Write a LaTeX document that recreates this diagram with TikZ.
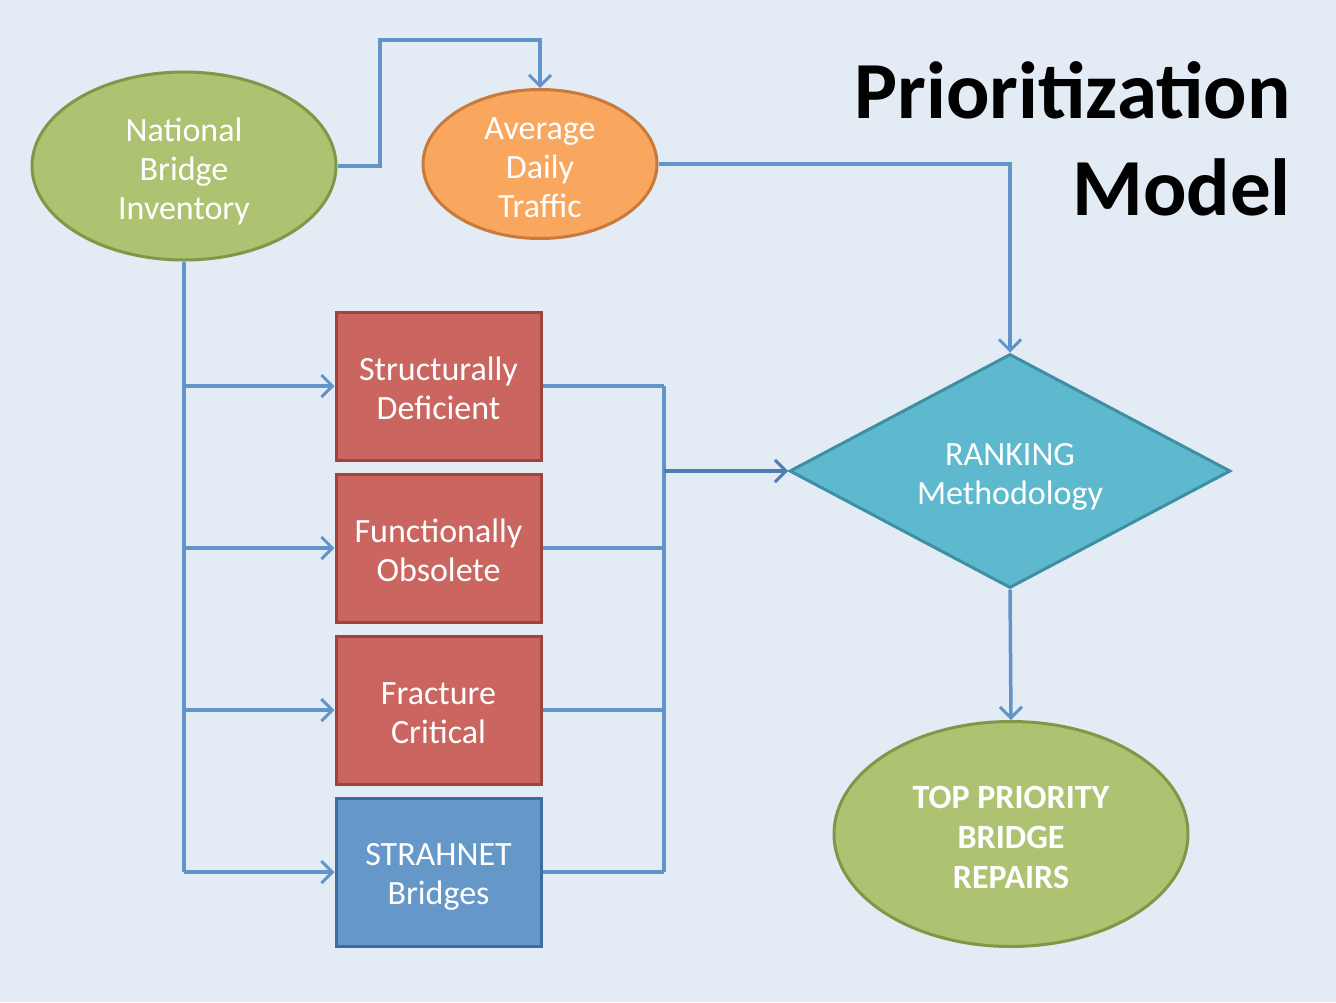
\documentclass[tikz,border=0pt]{standalone}
\usepackage{fontspec}
\setmainfont{Carlito}
\usetikzlibrary{shapes.geometric,arrows.meta}
\definecolor{bg}{RGB}{227,235,245}
\definecolor{gfill}{RGB}{173,195,114}
\definecolor{gdraw}{RGB}{126,152,72}
\definecolor{ofill}{RGB}{249,166,95}
\definecolor{odraw}{RGB}{200,122,58}
\definecolor{rfill}{RGB}{203,101,96}
\definecolor{rdraw}{RGB}{160,66,62}
\definecolor{bfill}{RGB}{101,151,200}
\definecolor{bdraw}{RGB}{63,108,156}
\definecolor{dfill}{RGB}{94,185,206}
\definecolor{ddraw}{RGB}{61,143,163}
\definecolor{lcol}{RGB}{99,148,201}
\definecolor{lcold}{RGB}{80,125,180}
\tikzset{
  txt/.style={text=white,font=\fontsize{34}{39}\selectfont,align=center,inner sep=0pt},
  ell/.style={ellipse,line width=3pt,inner sep=0pt},
  boxn/.style={rectangle,line width=3pt,minimum width=205pt,minimum height=148pt,inner sep=0pt,fill=rfill,draw=rdraw},
  conn/.style={draw=lcol,line width=3.5pt},
  tip/.style={-{Straight Barb[length=11pt,width=22pt,line width=3pt]}},
}
\begin{document}
\begin{tikzpicture}[x=1pt,y=-1pt]
\fill[bg] (0,0) rectangle (1336,1002);
\useasboundingbox (0,0) rectangle (1336,1002);

\node[ell,fill=gfill,draw=gdraw,minimum width=304pt,minimum height=188pt] (nbi) at (184,166) {};
\node[ell,fill=ofill,draw=odraw,minimum width=234pt,minimum height=149pt] (adt) at (540,164) {};
\node[boxn] (sd) at (438.5,386) {};
\node[boxn] (fo) at (438.5,548) {};
\node[boxn] (fc) at (438.5,710) {};
\node[boxn,fill=bfill,draw=bdraw] (st) at (438.5,872) {};
\node[diamond,fill=dfill,draw=ddraw,line width=3pt,inner sep=0pt,minimum width=441pt,minimum height=234pt,aspect=1.88] (rank) at (1010,471) {};
\node[ell,fill=gfill,draw=gdraw,minimum width=354pt,minimum height=225pt] (top) at (1011,834) {};

\node[txt] (nbit) at ([yshift=-5pt]nbi.center) {National\\Bridge\\Inventory};
\node[txt] (adtt) at ([yshift=-4pt]adt.center) {Average\\Daily\\Traffic};
\node[txt] (sdt) at ([yshift=-2.5pt]sd.center) {Structurally\\Deficient};
\node[txt] (fot) at ([yshift=-2.5pt]fo.center) {Functionally\\Obsolete};
\node[txt] (fct) at ([yshift=-3pt]fc.center) {Fracture\\Critical};
\node[txt] (stt) at ([yshift=-5pt]st.center) {STRAHNET\\Bridges};
\node[txt] (rankt) at ([yshift=-6pt]rank.center) {RANKING\\Methodology};
\node[txt,font=\bfseries\fontsize{34}{40}\selectfont] (topt) at ([yshift=-3pt]top.center) {TOP PRIORITY\\BRIDGE\\REPAIRS};

\node[anchor=base east,font=\bfseries\fontsize{81}{95}\selectfont,inner sep=0pt] (t1) at (1291,118) {Prioritization};
\node[anchor=base east,font=\bfseries\fontsize{81}{95}\selectfont,inner sep=0pt] (t2) at (1291,215) {Model};

\coordinate (mx) at (664,471);
\coordinate (up) at (380,40);

\draw[conn,tip] (nbi.east) -| (up) -| (adt.north);
\draw[conn,tip] (adt.east) -| (rank.north);
\draw[conn] (nbi.south) -- (nbi.south |- st.west);
\foreach \b in {sd,fo,fc,st}{
  \draw[conn,tip] (nbi.south |- \b.west) -- (\b.west);
  \draw[conn] (\b.east) -- (mx |- \b.east);
}
\draw[conn] (mx |- sd.east) -- (mx |- st.east);
\draw[conn,draw=lcold,line width=4pt,tip] (mx) -- (rank.west);
\draw[conn,tip] (rank.south) -- (top.north);
\end{tikzpicture}
\end{document}
